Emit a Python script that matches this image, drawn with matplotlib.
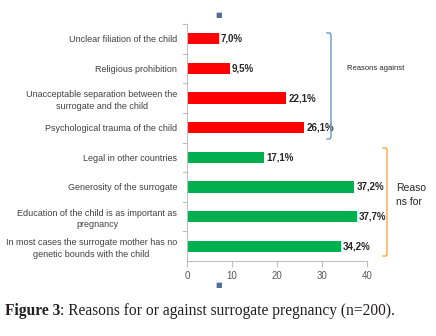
import matplotlib
matplotlib.use("Agg")
import matplotlib.pyplot as plt
from matplotlib.lines import Line2D

# data
categories = [
    "Unclear filiation of the child",
    "Religious prohibition",
    "Unacceptable separation between the\nsurrogate and the child",
    "Psychological trauma of the child",
    "Legal in other countries",
    "Generosity of the surrogate",
    "Education of the child is as important as\npregnancy",
    "In most cases the surrogate mother has no\ngenetic bounds with the child",
]
values = [7.0, 9.5, 22.1, 26.1, 17.1, 37.2, 37.7, 34.2]
groups = ["against"] * 4 + ["for"] * 4
group_colors = {"against": "#FF0000", "for": "#00B050"}
xticks = [0, 10, 20, 30, 40]

plt.rcParams['font.family'] = ['Liberation Sans Narrow', 'Liberation Sans', 'DejaVu Sans']

W, H = 436, 336
fig = plt.figure(figsize=(W / 100, H / 100), dpi=100)
ax = fig.add_axes([187 / W, 1 - 261 / H, 180 / W, 237 / H])

ypos = list(range(len(categories)))
colors = [group_colors[g] for g in groups]
ax.barh(ypos, values, height=0.38, color=colors)
ax.set_ylim(len(categories) - 0.5, -0.5)
ax.set_xlim(0, 40)
ax.set_xticks(xticks)
ax.set_xticklabels([str(t) for t in xticks], fontsize=7, color="#595959")
ax.set_yticks(ypos)
ax.set_yticklabels(categories, fontsize=6.5, color="#404040", multialignment="center",
                   linespacing=1.35)
ax.tick_params(axis="y", length=0, pad=7)
ax.tick_params(axis="x", length=4, color="#BFBFBF", pad=3)

# little separator ticks on the category axis
for b in [y + 0.5 for y in ypos[:-1]] + [-0.5]:
    ax.plot([-1.0, 0], [b, b], color="#BFBFBF", lw=0.8, clip_on=False)

for s in ["top", "right"]:
    ax.spines[s].set_visible(False)
ax.spines["left"].set_color("#BFBFBF")
ax.spines["bottom"].set_color("#BFBFBF")

for y, v in zip(ypos, values):
    ax.text(v + 0.5, y, f"{v:.1f}".replace(".", ",") + "%", va="center", ha="left",
            fontsize=7, fontweight="bold", color="#262626")


def px(x, y):
    return x / W, 1 - y / H


def bracket(x, y0, y1, color):
    xs = [x - 4, x - 1, x, x, x - 1, x - 4]
    ys = [y0, y0, y0 + 2, y1 - 2, y1, y1]
    pts = [px(a, b) for a, b in zip(xs, ys)]
    fig.add_artist(Line2D([p[0] for p in pts], [p[1] for p in pts], color=color, lw=1.0,
                          transform=fig.transFigure))


bracket(331, 33, 139, "#6B95CF")
bracket(387, 148, 256, "#F9A645")

fig.text(*px(376, 69), "Reasons against", fontsize=5.5, color="#262626", ha="center", va="center")
fig.text(*px(396, 195), "Reaso\nns for", fontsize=7.5, color="#262626", ha="left", va="center",
         linespacing=1.5)

# small blue-grey markers
fig.text(*px(219, 15), "\u25A0", fontsize=5, color="#4F6E9A", ha="center", va="center",
         family="DejaVu Sans")
fig.text(*px(219, 285), "\u25A0", fontsize=5, color="#4F6E9A", ha="center", va="center",
         family="DejaVu Sans")

# caption: bold "Figure 3" followed by regular text
cap_size = 11.2
t1 = fig.text(*px(5, 311), "Figure 3", fontsize=cap_size, fontweight="bold",
              family="Liberation Serif", color="#231F20", ha="left", va="center")
renderer = fig.canvas.get_renderer()
bb = t1.get_window_extent(renderer)
fig.text(bb.x1 / W, 1 - 311 / H, ": Reasons for or against surrogate pregnancy (n=200).",
         fontsize=cap_size, family="Liberation Serif", color="#231F20", ha="left", va="center")

fig.savefig("out.png", dpi=100)
